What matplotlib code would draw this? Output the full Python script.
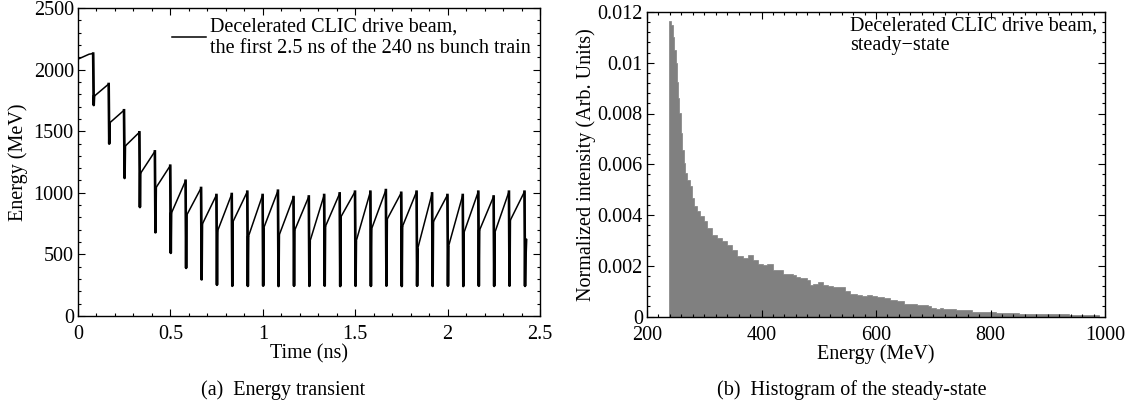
import numpy as np
import matplotlib
matplotlib.use("Agg")
import matplotlib.pyplot as plt
from matplotlib.ticker import MultipleLocator, FuncFormatter

plt.rcParams['font.family'] = ['Liberation Serif', 'DejaVu Serif']
plt.rcParams['font.size'] = 14.5

# ---------------- (a) Energy transient data ----------------
first_bunch_t = [0.0, 0.06, 0.08]
first_bunch_E = [2085, 2125, 2130]
drop_times = [0.083, 0.167, 0.250, 0.333, 0.417, 0.500, 0.583, 0.667, 0.750,
              0.833, 0.917, 1.000, 1.083, 1.167, 1.250, 1.333, 1.417, 1.500,
              1.583, 1.667, 1.750, 1.833, 1.917, 2.000, 2.083, 2.167, 2.250,
              2.333, 2.417]
peak_E = [2130, 1883, 1670, 1491, 1336, 1220, 1098, 1039, 982,
          990, 1009, 982, 1017, 965, 970, 982, 995, 1009,
          1009, 1022, 1000, 1009, 995, 982, 982, 1009, 970,
          1009, 1009]
bottom_E = [1712, 1399, 1120, 884, 679, 512, 390, 297, 253,
            245, 244, 246, 243, 245, 244, 246, 243, 245,
            244, 246, 243, 245, 244, 246, 243, 245, 244,
            246, 244]
recover_E = [1783, 1567, 1377, 1155, 1039, 830, 815, 740, 685,
             760, 640, 710, 650, 690, 600, 720, 800, 600,
             700, 780, 720, 540, 760, 560, 670, 690, 670,
             770, 620]
end_time = 2.428

# ---------------- (b) Histogram data ----------------
hist_edges = [238, 242, 245, 248, 250, 252, 254, 256.6, 259.5, 262, 264.4, 267,
              270, 274.6, 278.7, 282.8, 287.5, 293, 299, 305, 314, 323, 331.6,
              340, 349, 358, 367, 376, 385, 394, 402, 410, 420, 428, 438, 455,
              461, 467, 473, 479, 485, 490.6, 499, 508, 517, 525, 546, 555, 567,
              576, 585, 593, 602, 614, 625, 637, 649, 660, 672, 690, 696, 705,
              711, 717, 740, 768, 809, 850, 896, 937, 978, 990]
hist_vals = [0.01165, 0.01149, 0.01103, 0.0105, 0.00998, 0.00926, 0.0086,
             0.00801, 0.00723, 0.00657, 0.00605, 0.00565, 0.00539, 0.00513,
             0.00467, 0.00434, 0.00414, 0.00395, 0.00375, 0.00349, 0.00323,
             0.0031, 0.00296, 0.00283, 0.00264, 0.00237, 0.00231, 0.00241,
             0.00224, 0.00205, 0.00203, 0.00205, 0.00185, 0.00185, 0.00169,
             0.00165, 0.00156, 0.00152, 0.00153, 0.00142, 0.00126, 0.0013,
             0.00134, 0.00126, 0.0012, 0.00115, 0.001, 0.00089, 0.00085,
             0.0008, 0.00084, 0.00079, 0.00075, 0.00071, 0.00064, 0.0006,
             0.00051, 0.00048, 0.00044, 0.00043, 0.00035, 0.0003, 0.00034,
             0.00028, 0.00024, 0.00017, 0.00012, 0.0001, 0.00008, 0.00006,
             0.00004]

# build transient line
t = list(first_bunch_t)
E = list(first_bunch_E)
drop_t, drop_E = [], []
for k, td in enumerate(drop_times):
    t += [td, td + 0.002, td + 0.004]
    E += [peak_E[k], bottom_E[k], recover_E[k]]
    drop_t += [td - 0.001, td + 0.002, td + 0.004, np.nan]
    drop_E += [peak_E[k], bottom_E[k], recover_E[k], np.nan]
    if k + 1 < len(drop_times):
        t.append(drop_times[k + 1] - 0.001)
        E.append(peak_E[k + 1])
t[-1] = end_time

fig = plt.figure(figsize=(11.35, 4.08), dpi=100)
ax1 = fig.add_axes([78 / 1135, 1 - 316 / 408, 462 / 1135, 308 / 408])
ax2 = fig.add_axes([647 / 1135, 1 - 316.5 / 408, 458 / 1135, 304.5 / 408])

fmt = FuncFormatter(lambda v, p: f"{v:g}")

def style(ax):
    ax.tick_params(which='both', direction='in', top=True, right=True,
                   width=0.8, labelsize=14.5)
    ax.tick_params(which='major', length=5, pad=3)
    ax.tick_params(axis='x', which='major', pad=6.5)
    ax.tick_params(which='minor', length=2.5)
    for s in ax.spines.values():
        s.set_linewidth(1.0)

ax1.plot(t, E, color='black', lw=1.1,
         label="Decelerated CLIC drive beam,\nthe first 2.5 ns of the 240 ns bunch train")
ax1.plot(drop_t, drop_E, color='black', lw=1.9)
ax1.set_xlim(0, 2.5)
ax1.set_ylim(0, 2500)
ax1.xaxis.set_major_locator(MultipleLocator(0.5))
ax1.xaxis.set_minor_locator(MultipleLocator(0.1))
ax1.yaxis.set_major_locator(MultipleLocator(500))
ax1.yaxis.set_minor_locator(MultipleLocator(100))
ax1.xaxis.set_major_formatter(fmt)
style(ax1)
ax1.set_xlabel("Time (ns)", labelpad=0)
ax1.set_ylabel("Energy (MeV)", labelpad=4)
ax1.legend(loc='upper right', frameon=False, fontsize=14.5, handlelength=1.7,
           handletextpad=0.2, borderaxespad=0.15, borderpad=0.3,
           labelspacing=0.2)

ax2.stairs(hist_vals, hist_edges, fill=True, facecolor='#808080',
           edgecolor='#808080', lw=0.5)
ax2.set_xlim(200, 1000)
ax2.set_ylim(0, 0.012)
ax2.xaxis.set_major_locator(MultipleLocator(200))
ax2.xaxis.set_minor_locator(MultipleLocator(20))
ax2.yaxis.set_major_locator(MultipleLocator(0.002))
ax2.yaxis.set_minor_locator(MultipleLocator(0.0004))
ax2.yaxis.set_major_formatter(fmt)
style(ax2)
ax2.set_xlabel("Energy (MeV)", labelpad=0)
ax2.set_ylabel("Normalized intensity (Arb. Units)", labelpad=1)
ax2.text(0.443, 0.985, "Decelerated CLIC drive beam,\nsteady\u2212state",
         transform=ax2.transAxes, ha='left', va='top', fontsize=14.5,
         linespacing=1.05)

fig.text(283 / 1135, 1 - 390 / 408, "(a)  Energy transient", ha='center',
         va='center', fontsize=14.5)
fig.text(852 / 1135, 1 - 390 / 408, "(b)  Histogram of the steady-state",
         ha='center', va='center', fontsize=14.5)

fig.savefig("out.png", dpi=100)
